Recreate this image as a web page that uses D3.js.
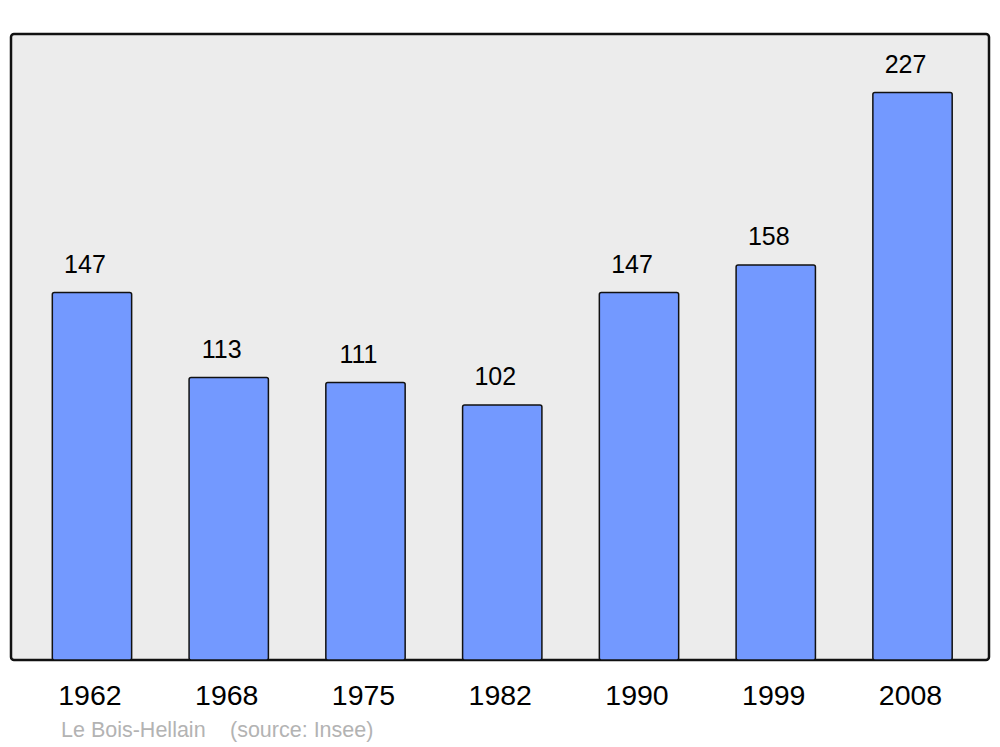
<!DOCTYPE html>
<html>
<head>
<meta charset="utf-8">
<script src="https://cdn.jsdelivr.net/npm/d3@7"></script>
<style>
  body { margin: 0; background: #fff; }
  text { font-family: "Liberation Sans", Arial, sans-serif; }
</style>
</head>
<body>
<script>
var years = ["1962", "1968", "1975", "1982", "1990", "1999", "2008"];
var population = [147, 113, 111, 102, 147, 158, 227];
var commune = "Le Bois-Hellain";
var source = "(source: Insee)";

var width = 1000, height = 747;
var svg = d3.select("body").append("svg").attr("width", width).attr("height", height);

// frame
svg.append("rect")
    .attr("x", 11).attr("y", 34)
    .attr("width", 978).attr("height", 626)
    .attr("rx", 3)
    .attr("fill", "#ececec")
    .attr("stroke", "#111").attr("stroke-width", 2.5);

var x = d3.scaleBand()
    .domain(years)
    .range([23.6, 980.9])
    .paddingInner(0.42)
    .paddingOuter(0.21);

var y = d3.scaleLinear()
    .domain([0, 250.4])
    .range([660, 34]);

var data = years.map(function(d, i) { return {year: d, value: population[i]}; });

svg.append("g").selectAll("rect")
    .data(data)
    .enter().append("rect")
      .attr("x", function(d) { return x(d.year); })
      .attr("y", function(d) { return y(d.value); })
      .attr("width", x.bandwidth())
      .attr("height", function(d) { return y(0) - y(d.value); })
      .attr("rx", 2)
      .attr("fill", "#7399ff")
      .attr("stroke", "#111").attr("stroke-width", 1.5);

svg.append("g").selectAll("text")
    .data(data)
    .enter().append("text")
      .attr("x", function(d) { return x(d.year) + x.bandwidth() / 2 - 7; })
      .attr("y", function(d) { return y(d.value) - 20; })
      .attr("text-anchor", "middle")
      .attr("font-size", 25)
      .attr("fill", "#000")
      .text(function(d) { return d.value; });

svg.append("g").selectAll("text")
    .data(years)
    .enter().append("text")
      .attr("x", function(d) { return x(d) + x.bandwidth() / 2 - 2; })
      .attr("y", 705)
      .attr("text-anchor", "middle")
      .attr("font-size", 28.5)
      .attr("fill", "#000")
      .text(function(d) { return d; });

svg.append("text")
    .attr("x", 61).attr("y", 737)
    .attr("font-size", 21.5)
    .attr("fill", "#b3b3b3")
    .text(commune);

svg.append("text")
    .attr("x", 230).attr("y", 737)
    .attr("font-size", 21.5)
    .attr("fill", "#b3b3b3")
    .text(source);
</script>
</body>
</html>
